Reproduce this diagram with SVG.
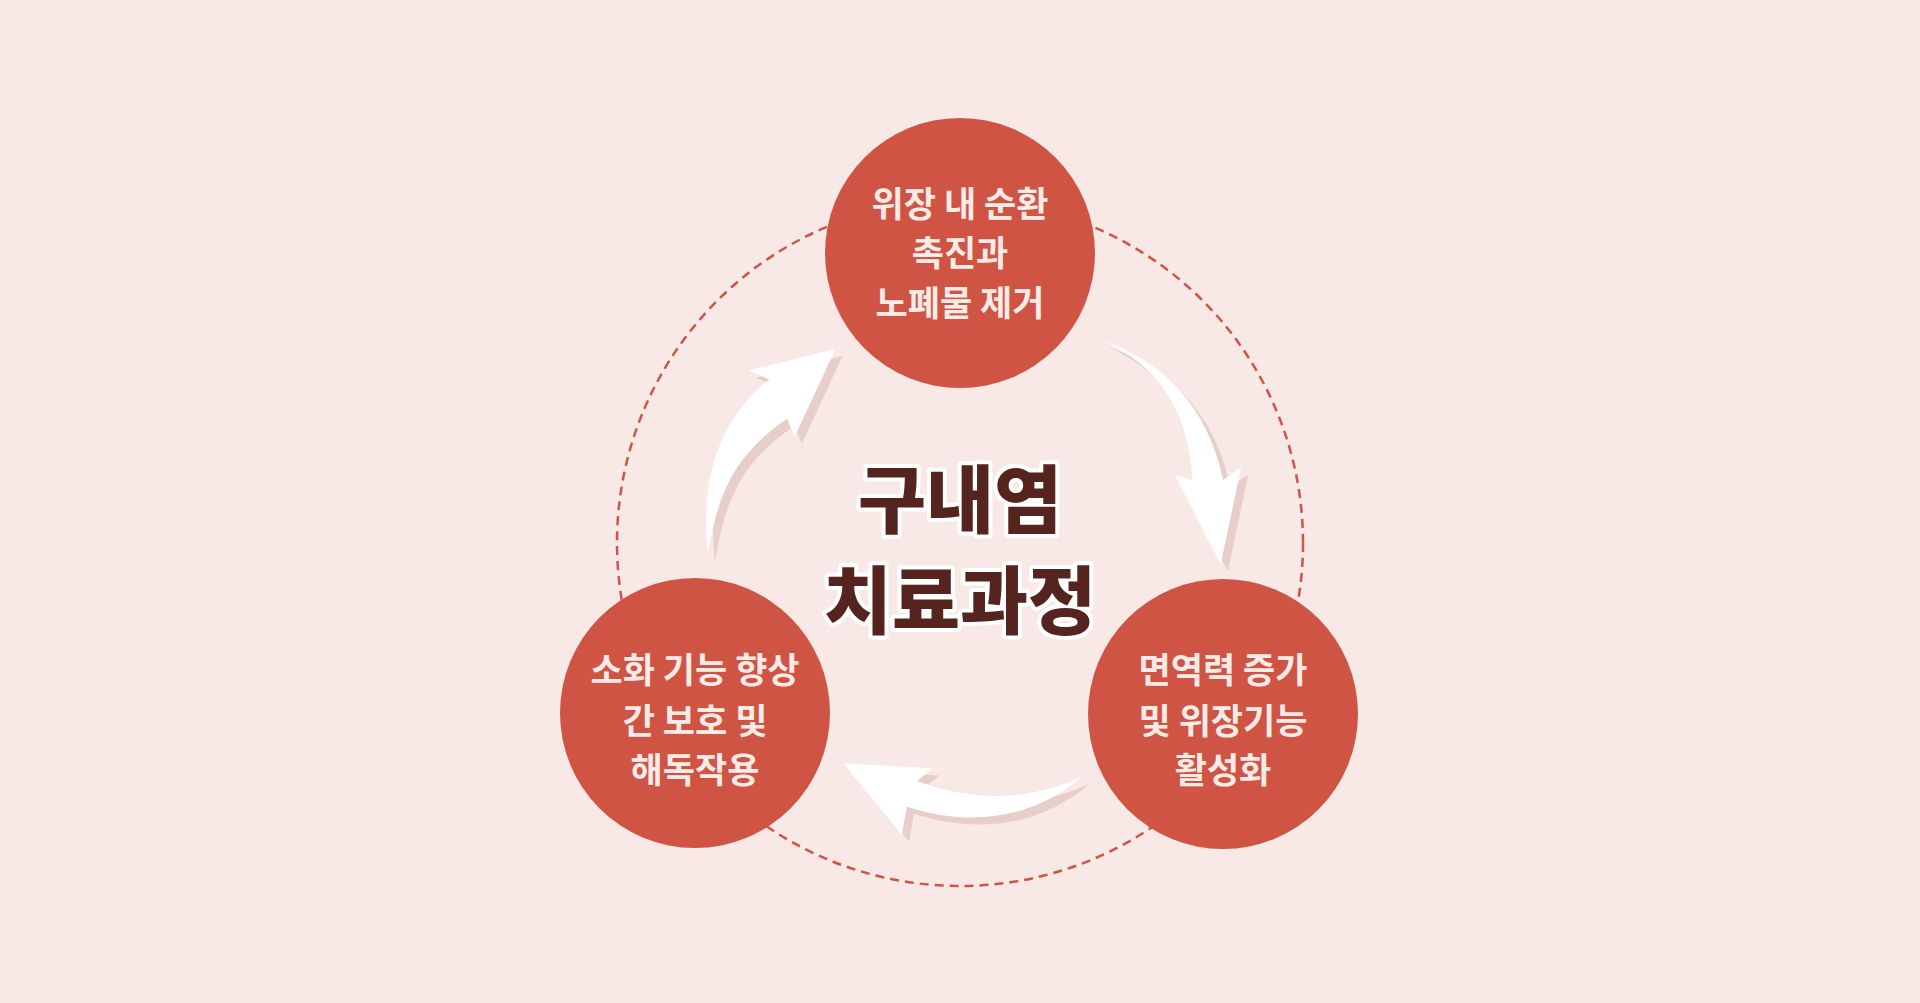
<svg xmlns="http://www.w3.org/2000/svg" width="1920" height="1003" viewBox="0 0 1920 1003">
<style>
.node{fill:#cf5444}
.lbl{font-family:"Noto Sans CJK KR","Noto Sans",sans-serif;font-weight:700;font-size:35px;fill:#fbebe7;text-anchor:middle}
.title{font-family:"Noto Sans CJK KR","Noto Sans",sans-serif;font-weight:900;font-size:74px;fill:#55241e;stroke:#ffffff;stroke-width:8px;paint-order:stroke;text-anchor:middle;stroke-linejoin:round}
.arrow{fill:#ffffff}
.shadow{fill:#e8cecb}
</style>
<rect width="1920" height="1003" fill="#f8e8e6"/>
<g id="connectors">
<circle cx="960" cy="543" r="343" fill="none" stroke="#cf5444" stroke-width="2.5" stroke-dasharray="9 6"/>
<g transform="translate(560,100) scale(0.5102)">
<g transform="translate(14,14)" class="shadow">
<path d="M540,488 L370,530 L410,548 C330,610 270,720 290,890 C310,760 350,690 445,625 L460,660 Z"/>
<path d="M1060,470 C1170,520 1230,600 1240,745 L1205,735 L1295,910 L1335,720 L1300,745 C1270,600 1180,510 1060,470 Z"/>
<path d="M555,1300 L730,1310 L700,1335 C820,1380 930,1370 1025,1325 C940,1400 820,1430 680,1385 L670,1440 Z"/>
</g>
<g class="arrow">
<path d="M540,488 L370,530 L410,548 C330,610 270,720 290,890 C310,760 350,690 445,625 L460,660 Z"/>
<path d="M1060,470 C1170,520 1230,600 1240,745 L1205,735 L1295,910 L1335,720 L1300,745 C1270,600 1180,510 1060,470 Z"/>
<path d="M555,1300 L730,1310 L700,1335 C820,1380 930,1370 1025,1325 C940,1400 820,1430 680,1385 L670,1440 Z"/>
</g>
</g>
</g>
<g id="node-top">
<circle class="node" cx="960" cy="253" r="135"/>
<text class="lbl" x="960" y="217">위장 내 순환</text>
<text class="lbl" x="960" y="266">촉진과</text>
<text class="lbl" x="960" y="316">노폐물 제거</text>
</g>
<g id="node-left">
<circle class="node" cx="695" cy="713" r="135"/>
<text class="lbl" x="695" y="683">소화 기능 향상</text>
<text class="lbl" x="695" y="734">간 보호 및</text>
<text class="lbl" x="695" y="783">해독작용</text>
</g>
<g id="node-right">
<circle class="node" cx="1223" cy="714" r="135"/>
<text class="lbl" x="1223" y="683">면역력 증가</text>
<text class="lbl" x="1223" y="734">및 위장기능</text>
<text class="lbl" x="1223" y="783">활성화</text>
</g>
<g id="title">
<text class="title" x="960" y="527">구내염</text>
<text class="title" x="960" y="628">치료과정</text>
</g>
</svg>
